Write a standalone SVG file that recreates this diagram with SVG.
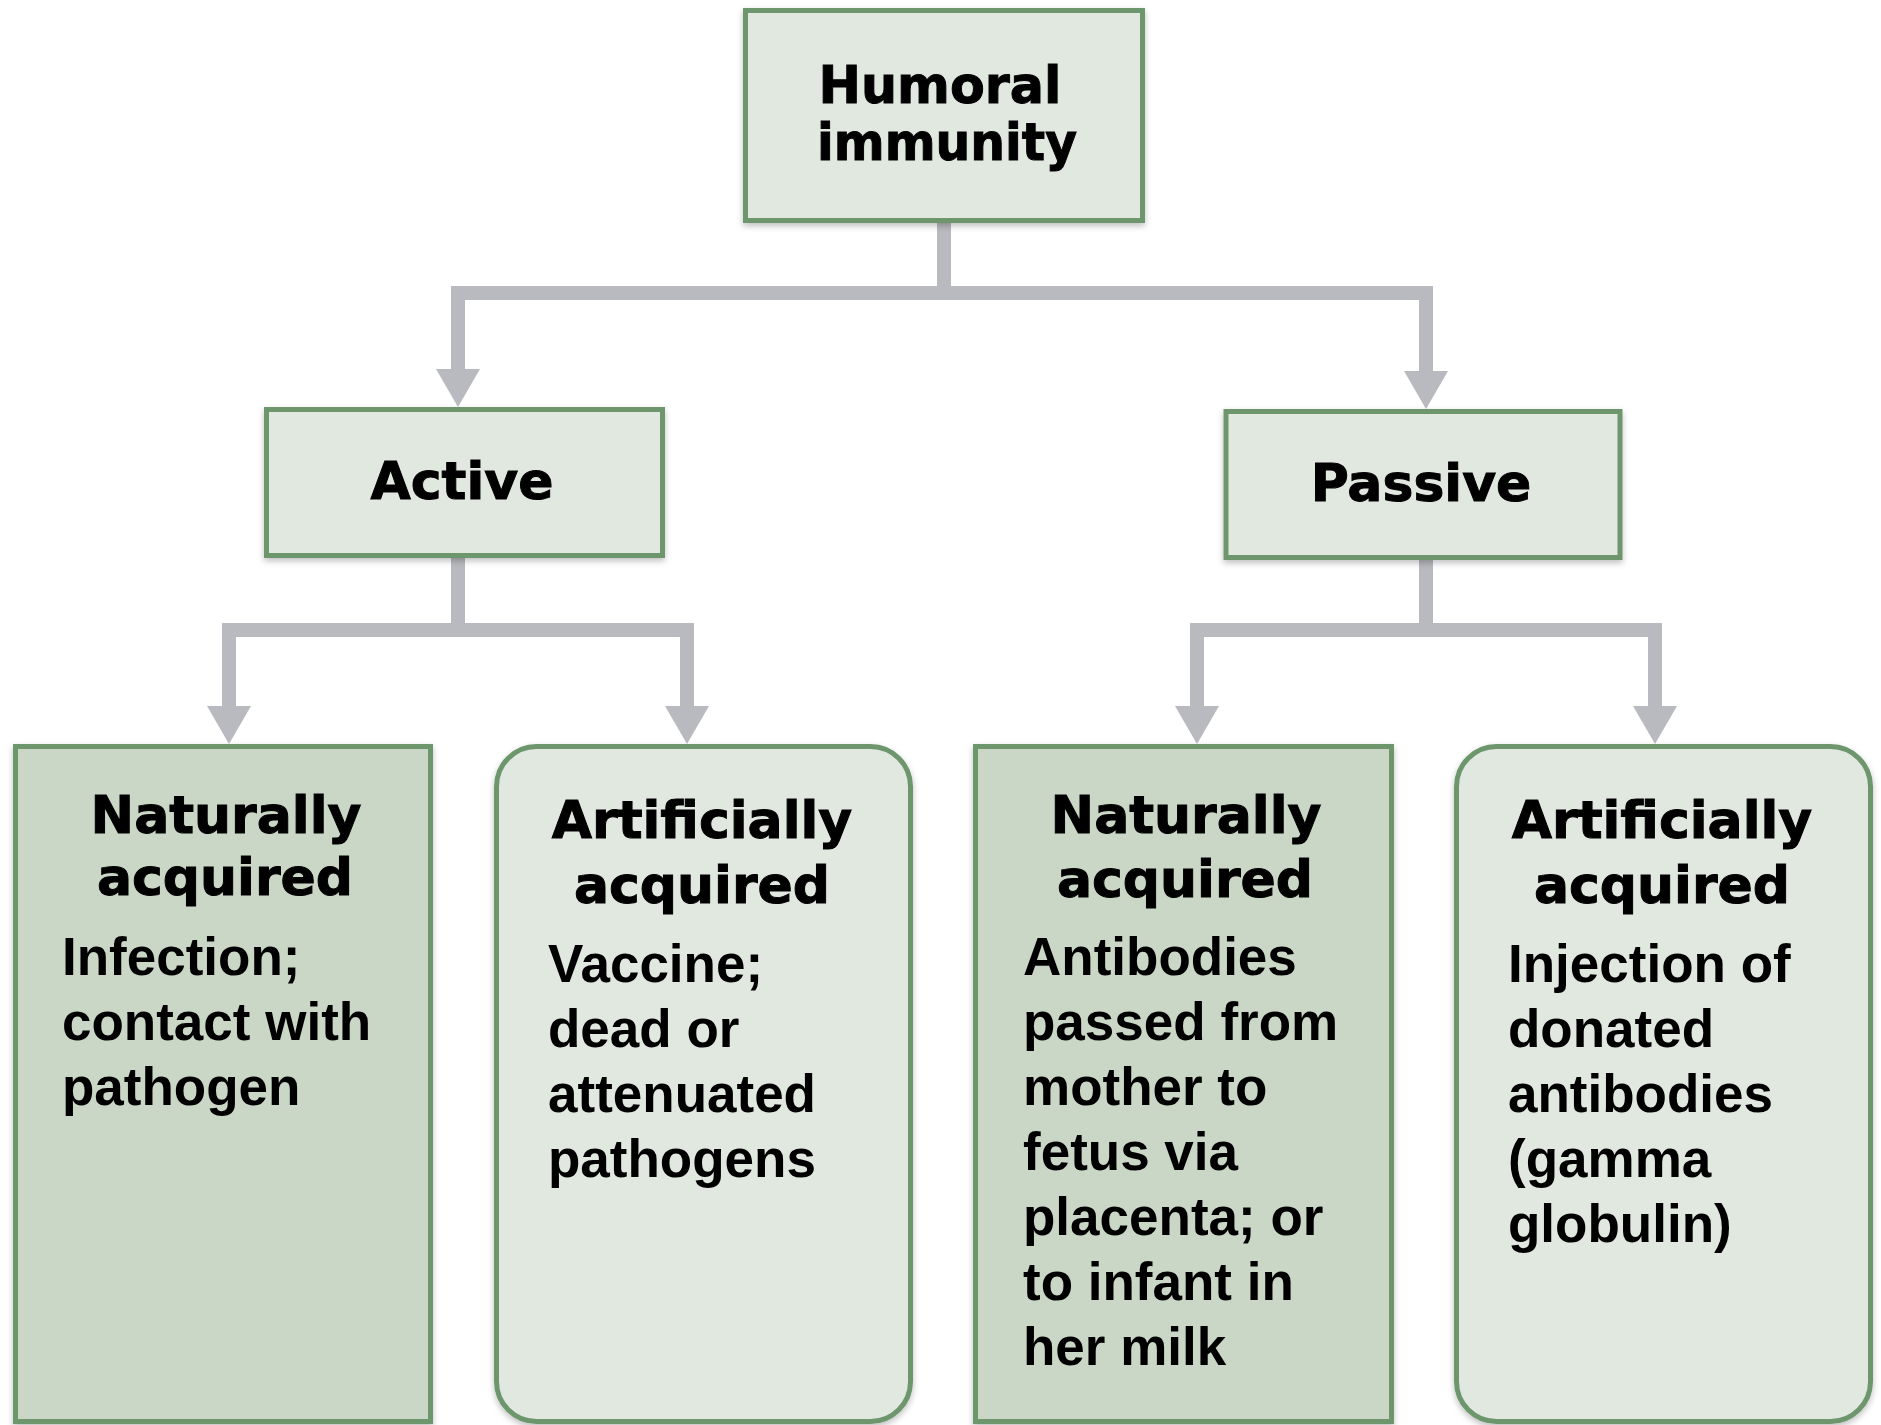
<svg xmlns="http://www.w3.org/2000/svg" width="1881" height="1425" viewBox="0 0 1881 1425">
<style>
.box{stroke:#6e966d;stroke-width:5;filter:url(#sh)}
.light{fill:#e1e8e0}
.dark{fill:#cad7c6}
.head{font-family:"DejaVu Sans",sans-serif;font-weight:bold;font-size:52px;fill:#000;stroke:#000;stroke-width:1;text-anchor:middle}
.body{font-family:"Liberation Sans",Arial,sans-serif;font-weight:bold;font-size:53px;fill:#000}
.con{fill:none;stroke:#b9babf;stroke-width:14;stroke-linejoin:miter;stroke-linecap:square}
</style>
<defs>
<filter id="sh" x="-10%" y="-10%" width="120%" height="120%">
<feDropShadow dx="0" dy="3" stdDeviation="3" flood-color="#000" flood-opacity="0.25"/>
</filter>
<marker id="arr" markerUnits="userSpaceOnUse" markerWidth="40" markerHeight="46" refX="0" refY="22" orient="auto" overflow="visible">
<path d="M0 0 L38 22 L0 44 Z" fill="#b9babf"/>
</marker>
</defs>
<g id="connectors">
<path class="con" d="M944 223 V293"/>
<path class="con" d="M458 293 H1426"/>
<path class="con" d="M458 293 V369" marker-end="url(#arr)"/>
<path class="con" d="M1426 293 V371" marker-end="url(#arr)"/>
<path class="con" d="M458 558 V630"/>
<path class="con" d="M229 630 H687"/>
<path class="con" d="M229 630 V706" marker-end="url(#arr)"/>
<path class="con" d="M687 630 V706" marker-end="url(#arr)"/>
<path class="con" d="M1426 560 V630"/>
<path class="con" d="M1197 630 H1655"/>
<path class="con" d="M1197 630 V706" marker-end="url(#arr)"/>
<path class="con" d="M1655 630 V706" marker-end="url(#arr)"/>
</g>
<g id="humoral">
<rect class="box light" x="745.5" y="10.5" width="397" height="210"/>
<text class="head" x="940" y="103" font-size="51" textLength="243" lengthAdjust="spacingAndGlyphs">Humoral</text>
<text class="head" x="947" y="160" font-size="51" textLength="260" lengthAdjust="spacingAndGlyphs">immunity</text>
</g>
<g id="active">
<rect class="box light" x="266.5" y="409.5" width="396" height="146"/>
<text class="head" x="462" y="499">Active</text>
</g>
<g id="passive">
<rect class="box light" x="1226" y="411.5" width="394" height="146"/>
<text class="head" x="1421" y="501">Passive</text>
</g>
<g id="active-natural">
<rect class="box dark" x="15.5" y="746.5" width="415" height="675"/>
<text class="head" x="226" y="833">Naturally</text>
<text class="head" x="225" y="895">acquired</text>
<text class="body" x="62" y="975">Infection;</text>
<text class="body" x="62" y="1040">contact with</text>
<text class="body" x="62" y="1105">pathogen</text>
</g>
<g id="active-artificial">
<rect class="box light" x="496.5" y="746.5" width="414" height="675" rx="40" ry="40"/>
<text class="head" x="702" y="838">Artificially</text>
<text class="head" x="702" y="903">acquired</text>
<text class="body" x="548" y="982">Vaccine;</text>
<text class="body" x="548" y="1047">dead or</text>
<text class="body" x="548" y="1112">attenuated</text>
<text class="body" x="548" y="1177">pathogens</text>
</g>
<g id="passive-natural">
<rect class="box dark" x="975.5" y="746.5" width="416" height="675"/>
<text class="head" x="1186" y="833">Naturally</text>
<text class="head" x="1185" y="897">acquired</text>
<text class="body" x="1023" y="975">Antibodies</text>
<text class="body" x="1023" y="1040">passed from</text>
<text class="body" x="1023" y="1105">mother to</text>
<text class="body" x="1023" y="1170">fetus via</text>
<text class="body" x="1023" y="1235">placenta; or</text>
<text class="body" x="1023" y="1300">to infant in</text>
<text class="body" x="1023" y="1365">her milk</text>
</g>
<g id="passive-artificial">
<rect class="box light" x="1456.5" y="746.5" width="414" height="675" rx="40" ry="40"/>
<text class="head" x="1662" y="838">Artificially</text>
<text class="head" x="1662" y="903">acquired</text>
<text class="body" x="1508" y="982">Injection of</text>
<text class="body" x="1508" y="1047">donated</text>
<text class="body" x="1508" y="1112">antibodies</text>
<text class="body" x="1508" y="1177">(gamma</text>
<text class="body" x="1508" y="1242">globulin)</text>
</g>
</svg>
